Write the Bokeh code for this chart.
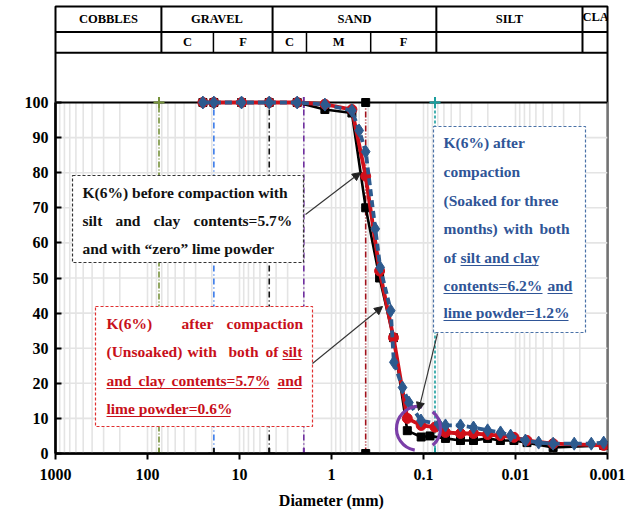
from bokeh.plotting import figure
from bokeh.models import Range1d, FixedTicker, CustomJSTickFormatter, Arrow, NormalHead
from bokeh.core.properties import value
from bokeh.embed import file_html
from bokeh.resources import INLINE

# ---------------- data ----------------
d_before = [25, 19, 9.5, 4.75, 2.36, 1.18, 0.6, 0.425, 0.3, 0.212, 0.15, 0.106, 0.085,
            0.0577, 0.0396, 0.0286, 0.0201, 0.0146, 0.0104, 0.0075, 0.0039, 0.0011]
p_before = [100, 100, 100, 100, 100, 98, 97, 70, 50, 33, 6.5, 4.7, 5.0,
            4.3, 3.7, 3.7, 4.3, 3.7, 3.7, 3.1, 1.7, 2.3]

d_unsoaked = [25, 19, 9.5, 4.75, 2.36, 1.18, 0.6, 0.425, 0.3, 0.212, 0.15, 0.106, 0.075,
              0.0577, 0.0396, 0.0286, 0.0201, 0.0146, 0.0104, 0.0075, 0.0039, 0.0011]
p_unsoaked = [100, 100, 100, 100, 100, 99.5, 98, 79, 52, 33, 10, 8, 7.5,
              6, 5.7, 5.7, 5.4, 5.1, 4.6, 3.7, 2.8, 2.3]

d_soaked = [25, 19, 9.5, 4.75, 2.36, 1.18, 0.6, 0.5, 0.425, 0.334, 0.2955, 0.227, 0.21,
            0.169, 0.144, 0.1065, 0.068, 0.0577, 0.0396, 0.0286, 0.0201, 0.01455, 0.0113,
            0.0078, 0.0056, 0.0039, 0.0023, 0.0015, 0.0011]
p_soaked = [100, 100, 100, 100, 100, 99.4, 97.7, 92, 86, 64, 53, 40.7, 26,
            18.8, 14.5, 9.4, 8.3, 8, 8, 7.4, 6.6, 6, 5.1,
            3.7, 3.1, 2.8, 2.8, 2.8, 3.1]

# boundary sizes (mm) drawn as vertical dash-dot lines
boundary_d = [75, 19, 4.75, 2, 0.425, 0.075]

# classification table
main_bounds = [1000, 70.6, 4.37, 0.0725, 0.00187, 0.001]
main_labels = ["COBBLES", "GRAVEL", "SAND", "SILT", "CLAY"]
sub_bounds = [19.2, 1.87, 0.375]
sub_cells = [(70.6, 19.2), (19.2, 4.37), (4.37, 1.87), (1.87, 0.375), (0.375, 0.0725)]
sub_labels = ["C", "F", "C", "M", "F"]

x_ticks = [1000, 100, 10, 1, 0.1, 0.01, 0.001]
y_ticks = list(range(0, 101, 10))

# ---------------- layout helpers (pixel -> data) ----------------
FONT = "Liberation Serif"
X0, DEC, Y0, YS = 55, 92.0, 453, 3.51


def px2d(px):
    return 10 ** (3 - (px - X0) / DEC)


def py2p(py):
    return (Y0 - py) / YS


p = figure(frame_width=552, frame_height=447, x_axis_type="log",
           x_range=Range1d(1000, 0.001), y_range=Range1d(0, py2p(6)),
           output_backend="svg", toolbar_location=None,
           min_border_left=55, min_border_right=31, min_border_top=6, min_border_bottom=67)
p.xgrid.visible = False
p.ygrid.visible = False
p.outline_line_color = "black"
p.outline_line_width = 2
p.background_fill_color = "white"

# grid (only in the 0..100 zone)
gx = [k * 10.0 ** n for n in range(-3, 3) for k in range(1, 10)] + [1000]
p.segment(x0=gx, x1=gx, y0=0, y1=100, line_color="#E4E4E4", line_width=1.6)
p.segment(x0=1000, x1=0.001, y0=y_ticks, y1=y_ticks, line_color="#E4E4E4", line_width=1.6)

# table
y_row1 = py2p(31.5)
y_row2 = py2p(52.3)
y_top = py2p(6)
p.segment(x0=[1000, 1000], x1=[0.001, 0.001], y0=[y_row1, y_row2], y1=[y_row1, y_row2],
          line_color="black", line_width=2)
p.segment(x0=main_bounds[1:-1], x1=main_bounds[1:-1], y0=y_row2, y1=y_top,
          line_color="black", line_width=2)
p.segment(x0=sub_bounds, x1=sub_bounds, y0=y_row2, y1=y_row1, line_color="black", line_width=1.5)
p.segment(x0=1000, x1=0.001, y0=100, y1=100, line_color="black", line_width=2.2)

HFS = "12.5px"
mx = [(main_bounds[i] * main_bounds[i + 1]) ** 0.5 for i in range(len(main_labels) - 1)]
p.text(x=mx, y=(y_top + y_row1) / 2, text=main_labels[:-1], text_align="center",
       text_baseline="middle", text_font=value(FONT), text_font_style="bold",
       text_font_size=HFS, text_color="black")
p.text(x=[main_bounds[-2]], y=[(y_top + y_row1) / 2 + 0.6], text=[main_labels[-1]],
       text_align="left", text_baseline="middle", text_font=value(FONT),
       text_font_style="bold", text_font_size=HFS, text_color="black")
sx = [(a * b) ** 0.5 for a, b in sub_cells]
p.text(x=sx, y=(y_row1 + y_row2) / 2, text=sub_labels, text_align="center",
       text_baseline="middle", text_font=value(FONT), text_font_style="bold",
       text_font_size=HFS, text_color="black")

# vertical boundary lines
v_colors = ["#77933C", "#3A7BEA", "#111111", "#7030A0", "#A0101A", "#1A9E9E"]
v_dash = ["6 2 1 2", "6 3 1 3", "6 3 1 3", "6 3 1 3", "6 2 1 2 1 2", "3 2"]
v_mark = ["#77933C", "#111111", "#111111", "#7030A0", None, "#1A9E9E"]
for d, c, ds, mc in zip(boundary_d, v_colors, v_dash, v_mark):
    p.line([d, d], [0, 100], line_color=c, line_width=1.6, line_dash=ds)
    if mc is None:
        p.scatter([d, d], [0, 100], marker="square", size=8, color="black")
    else:
        p.scatter([d, d], [0, 100], marker="cross", size=11, line_color=mc, line_width=2)

# curves
BLUE = "#2D5A8E"
RED = "#D0101A"
p.line(d_before, p_before, line_color="black", line_width=2.6)
p.scatter(d_before, p_before, marker="square", size=8, color="black")
p.line(d_unsoaked, p_unsoaked, line_color=RED, line_width=3.8)
p.scatter(d_unsoaked, p_unsoaked, marker="circle", size=10, color=RED)
p.line(d_soaked, p_soaked, line_color=BLUE, line_width=3.8, line_dash="7 4")
p.scatter(d_soaked, p_soaked, marker="diamond", size=13, color=BLUE)

# purple ring (two arcs)
cx, cy = px2d(418), py2p(428)
p.arc(x=[cx, cx], y=[cy, cy], radius=22, radius_units="screen",
      start_angle=[1.40, -0.87], end_angle=[4.54, 0.87],
      line_color="#7B3FA8", line_width=3.2)

# text boxes
p.quad(left=[px2d(72), px2d(95), px2d(433)], right=[px2d(303), px2d(312), px2d(585)],
       top=[py2p(175), py2p(306), py2p(126)], bottom=[py2p(262), py2p(426), py2p(332)],
       fill_color="white", line_color=["#333333", "#E03030", "#4A72A8"],
       line_dash="3 2", line_width=1.2)

BLK, REDT, BLUT = "#111111", "#C8101A", "#2F5597"
words = [
    ("K(6%) before compaction with", 82, 197, BLK),
    ("silt", 82, 225, BLK), ("and", 115, 225, BLK), ("clay", 153, 225, BLK),
    ("contents=5.7%", 193, 225, BLK),
    ("and with \u201czero\u201d lime powder", 82, 253, BLK),
    ("K(6%)", 106, 328, REDT), ("after", 181, 328, REDT), ("compaction", 226, 328, REDT),
    ("(Unsoaked)", 106, 356, REDT), ("with", 187, 356, REDT), ("both", 228, 356, REDT),
    ("of", 265, 356, REDT), ("silt", 282, 356, REDT),
    ("and", 106, 385, REDT), ("clay", 138, 385, REDT), ("contents=5.7%", 171, 385, REDT),
    ("and", 277, 385, REDT),
    ("lime powder=0.6%", 106, 413, REDT),
    ("K(6%) after", 443, 147, BLUT),
    ("compaction", 443, 176, BLUT),
    ("(Soaked for three", 443, 205, BLUT),
    ("months)", 443, 233, BLUT), ("with", 503, 233, BLUT), ("both", 539, 233, BLUT),
    ("of", 443, 262, BLUT), ("silt and clay", 460, 262, BLUT),
    ("contents=6.2%", 443, 290, BLUT), ("and", 547, 290, BLUT),
    ("lime powder=1.2%", 443, 317, BLUT),
]
SHIFT = 5
p.text(x=[px2d(w[1]) for w in words], y=[py2p(w[2] - SHIFT) for w in words],
       text=[w[0] for w in words], text_color=[w[3] for w in words],
       text_align="left", text_baseline="alphabetic", text_font=value(FONT),
       text_font_style="bold", text_font_size="15.5px")

ul = [(282, 301, 359, REDT), (106, 269, 388, REDT), (277, 301, 388, REDT), (106, 230, 416, REDT),
      (460, 538, 265, BLUT), (443, 542, 293, BLUT), (547, 572, 293, BLUT), (443, 568, 320, BLUT)]
p.segment(x0=[px2d(u[0]) for u in ul], x1=[px2d(u[1]) for u in ul],
          y0=[py2p(u[2]) for u in ul], y1=[py2p(u[2]) for u in ul],
          line_color=[u[3] for u in ul], line_width=1.2)

# arrows
for (xs, ys, xe, ye) in [(305, 214, 360, 172), (312, 363, 382, 306), (437, 333, 418, 410)]:
    p.add_layout(Arrow(x_start=px2d(xs), y_start=py2p(ys), x_end=px2d(xe), y_end=py2p(ye),
                       line_color="#333333", line_width=1.1,
                       end=NormalHead(size=8, fill_color="#222222", line_color="#222222")))

# axes
p.xaxis.ticker = FixedTicker(ticks=x_ticks, minor_ticks=[])
p.xaxis.formatter = CustomJSTickFormatter(
    code="return tick >= 1 ? tick.toFixed(0) : String(parseFloat(tick.toPrecision(1)));")
p.xaxis.axis_line_width = 2.5
p.xaxis.major_tick_line_width = 2
p.xaxis.major_tick_out = 6
p.xaxis.major_tick_in = 0
p.xaxis.minor_tick_out = 0
p.xaxis.major_label_standoff = 9
p.xaxis.major_label_text_font = FONT
p.xaxis.major_label_text_font_style = "bold"
p.xaxis.major_label_text_font_size = "16px"
p.xaxis.major_label_text_color = "black"
p.xaxis.axis_label = "Diameter (mm)"
p.xaxis.axis_label_standoff = 9
p.xaxis.axis_label_text_font = FONT
p.xaxis.axis_label_text_font_style = "bold"
p.xaxis.axis_label_text_font_size = "16px"
p.xaxis.axis_label_text_color = "black"

p.yaxis.ticker = FixedTicker(ticks=y_ticks, minor_ticks=[])
p.yaxis.bounds = (0, 100)
p.yaxis.axis_line_width = 2.5
p.yaxis.major_tick_line_width = 2
p.yaxis.major_tick_in = 6
p.yaxis.major_tick_out = 0
p.yaxis.minor_tick_out = 0
p.yaxis.minor_tick_in = 0
p.yaxis.major_label_standoff = 7
p.yaxis.major_label_text_font = FONT
p.yaxis.major_label_text_font_style = "bold"
p.yaxis.major_label_text_font_size = "16px"
p.yaxis.major_label_text_color = "black"

open("out.html", "w").write(file_html(p, INLINE))
